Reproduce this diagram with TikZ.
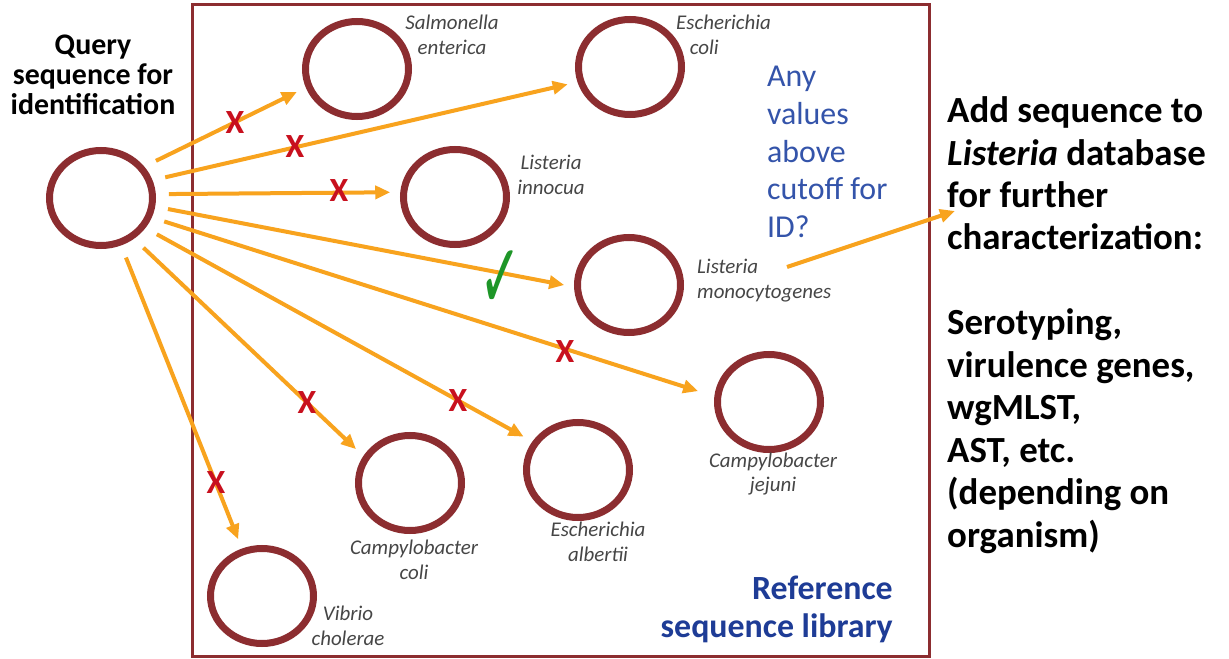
\documentclass[tikz,border=0pt]{standalone}
\usepackage{fontspec}
\usepackage{graphicx}
\setmainfont{Carlito}
\newfontfamily\symfont{DejaVu Sans}
\usetikzlibrary{arrows.meta,shapes.geometric}
\definecolor{ring}{RGB}{140,45,48}
\definecolor{arrowor}{RGB}{248,163,30}
\definecolor{labgray}{RGB}{70,70,70}
\definecolor{qblue}{RGB}{52,84,170}
\definecolor{refblue}{RGB}{30,60,150}
\definecolor{xred}{RGB}{200,16,30}
\definecolor{okgreen}{RGB}{30,150,40}
\begin{document}
\begin{tikzpicture}[x=1bp,y=-1bp,
  org/.style={ellipse,draw=ring,line width=7bp,minimum width=103bp,minimum height=95bp,inner sep=0pt},
  frame/.style={draw=ring,line width=3bp,inner sep=0pt},
  lab/.style={text=labgray,font=\fontsize{21}{25}\selectfont\itshape,inner sep=0pt,align=center},
  arr/.style={draw=arrowor,line width=4bp,-{Triangle[length=15bp,width=13bp]},shorten <=13bp,shorten >=10bp},
  xmark/.style={text=xred,font=\fontsize{34}{34}\selectfont\bfseries,inner sep=0pt},
  bigtext/.style={font=\fontsize{37}{42.6}\selectfont\bfseries,inner sep=0pt,align=left,text=black}
]
\useasboundingbox (0,0) rectangle (1229,659);
\fill[white] (0,0) rectangle (1229,659);

% library frame
\node[frame,minimum width=736bp,minimum height=651bp] (lib) at (561,330.5) {};

% organisms
\node[org] (q) at (101,198) {};
\node[org] (sal) at (357,69) {};
\node[org] (eco) at (630,67) {};
\node[org] (lin) at (455,197) {};
\node[org] (lmo) at (629,285) {};
\node[org] (cje) at (769,402) {};
\node[org] (eal) at (578,470) {};
\node[org] (cco) at (410,483) {};
\node[org] (vch) at (262,596) {};

% labels
\node[font=\fontsize{30}{30}\selectfont\bfseries,align=center,inner sep=0pt] (qlab) at (93,75) {Query\\sequence for\\identification};
\node[lab] (sallab) at (452,35) {Salmonella\\enterica};
\node[lab,align=left,anchor=west] (ecolab) at (676,35) {Escherichia\\\hspace*{0.65em}coli};
\node[lab] (linlab) at (551,175) {Listeria\\innocua};
\node[lab,align=left,anchor=west] (lmolab) at (697,281) {Listeria\\monocytogenes};
\node[lab] (cjelab) at (773,474) {Campylobacter\\jejuni};
\node[lab] (eallab) at (598,542) {Escherichia\\albertii};
\node[lab] (ccolab) at (414,560) {Campylobacter\\coli};
\node[lab] (vchlab) at (348,626) {Vibrio\\cholerae};

\node[text=qblue,font=\fontsize{32}{38}\selectfont,align=left,anchor=west,inner sep=0pt] (cut) at (767,152) {Any\\values\\above\\cutoff for\\ID?};
\node[text=refblue,font=\fontsize{34}{38}\selectfont\bfseries,align=right,anchor=east,inner sep=0pt] (ref) at (893,609) {Reference\\sequence library};
\node[bigtext,anchor=west] (add) at (947,325) {Add sequence to\\\textit{Listeria} database\\for further\\characterization:\\[42.6pt]Serotyping,\\virulence genes,\\wgMLST,\\AST, etc.\\(depending on\\organism)};

% arrows
\draw[arr] (q.36.5) -- (sal.-160.7);
\draw[arr] (q.19.8) -- (eco.196);
\draw[arr] (q.4) -- (lin.175);
\draw[arr] (q.-9.6) -- (lmo.182);
\draw[arr,shorten >=17bp] (q.-21) -- (cje.174.5);
\draw[arr] (q.-34) -- (eal.148);
\draw[arr] (q.-51) -- (cco.150);
\draw[arr] (q.-67) -- (vch.113);

\coordinate (a9s) at (787,267);
\coordinate (a9e) at (955,211);
\draw[arr,shorten <=0pt,shorten >=0pt] (a9s) -- (a9e);

% marks
\node[xmark] (x1) at (235,123) {X};
\node[xmark] (x2) at (295,147) {X};
\node[xmark] (x3) at (339,191) {X};
\node[xmark] (x5) at (565,352) {X};
\node[xmark] (x6) at (458,401) {X};
\node[xmark] (x7) at (307,403) {X};
\node[xmark] (x8) at (216,483) {X};
\node[text=okgreen,font=\symfont\bfseries\fontsize{92}{92}\selectfont,inner sep=0pt] (ok) at (501,280) {\scalebox{0.55}[1]{✓}};
\end{tikzpicture}
\end{document}
